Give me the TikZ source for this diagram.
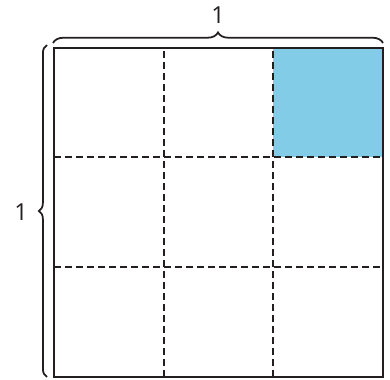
\documentclass[tikz,border=0pt]{standalone}
\usepackage{fontspec}
\setmainfont{Open Sans}
\usetikzlibrary{decorations.pathreplacing}
\definecolor{cellblue}{HTML}{82CCE8}
\definecolor{inkgray}{HTML}{231F20}

\begin{document}
\begin{tikzpicture}[x=0.03cm, y=0.03cm, line width=1.8pt, draw=inkgray]

\useasboundingbox (0,0) rectangle (390,379);

% Shaded cell (top right)
\fill[cellblue] (273,222) rectangle (383,331);

% Dashed grid lines
\foreach \x in {164,273}
  \draw[inkgray, line width=1.6pt, dash pattern=on 0.2cm off 0.13cm] (\x,2) -- (\x,331);
\foreach \y in {112,222}
  \draw[inkgray, line width=1.6pt, dash pattern=on 0.2cm off 0.13cm] (54,\y) -- (383,\y);

% Outer square
\draw[inkgray] (54,2) rectangle (383,331);

% Top brace
\draw[inkgray, line width=1.5pt, decorate, decoration={brace, amplitude=9pt}] (53,336) -- (383,336);
\node[text=inkgray, font=\fontsize{20}{24}\selectfont] (toplabel) at (218,364) {1};

% Left brace
\draw[inkgray, line width=1.5pt, decorate, decoration={brace, amplitude=7pt}] (47,2) -- (47,334);
\node[text=inkgray, font=\fontsize{20}{24}\selectfont] (leftlabel) at (21,167) {1};

\end{tikzpicture}
\end{document}
